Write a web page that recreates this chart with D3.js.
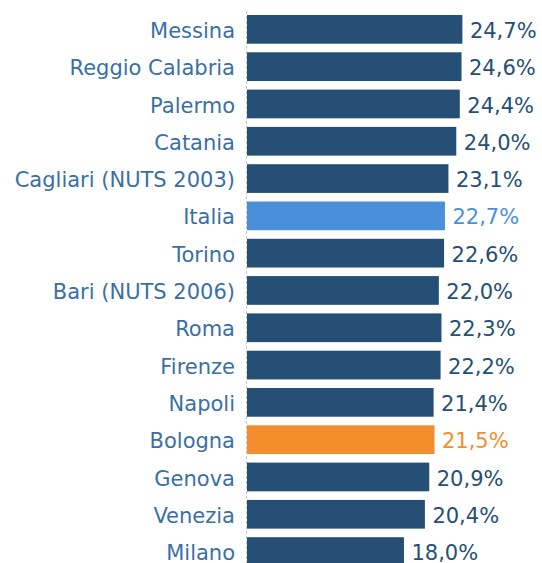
<!DOCTYPE html>
<html><head><meta charset="utf-8">
<script src="https://cdn.jsdelivr.net/npm/d3@7"></script>
<style>
html,body{margin:0;padding:0;background:#fff;}
svg{display:block;}
</style></head>
<body>
<svg id="chart" width="542" height="563"></svg>
<script>
const categories = ["Messina","Reggio Calabria","Palermo","Catania","Cagliari (NUTS 2003)","Italia","Torino","Bari (NUTS 2006)","Roma","Firenze","Napoli","Bologna","Genova","Venezia","Milano"];
const values = [24.7,24.6,24.4,24.0,23.1,22.7,22.6,22.0,22.3,22.2,21.4,21.5,20.9,20.4,18.0];
const highlight = {"Italia":"#4a90d9","Bologna":"#f28e2b"};
const baseColor = "#254f74";
const labelColor = "#3a6fa5";

const data = categories.map((c,i)=>({cat:c,val:values[i]}));
const svg = d3.select("#chart");
const x0 = 247;
const x = d3.scaleLinear().domain([0,30]).range([x0, x0 + 8.72*30]);
const step = 37.3, pad = 0.23;
const y = d3.scaleBand().domain(categories)
  .range([15 - step*pad/2, 15 - step*pad/2 + step*categories.length])
  .paddingInner(pad).paddingOuter(pad/2);

const font = "'DejaVu Sans', sans-serif";
const fs = "21px";

// dashed axis line
svg.append("line").attr("x1",x0-0.5).attr("x2",x0-0.5).attr("y1",11).attr("y2",563)
  .attr("stroke","#c8c8c8").attr("stroke-width",1).attr("stroke-dasharray","3,2");

svg.selectAll("rect.bar").data(data).join("rect").attr("class","bar")
  .attr("x",x(0)).attr("y",d=>y(d.cat))
  .attr("width",d=>x(d.val)-x(0)).attr("height",y.bandwidth())
  .attr("fill",d=>highlight[d.cat]||baseColor);

const yAxis = d3.axisLeft(y).tickSize(0).tickPadding(11);
const g = svg.append("g").attr("transform",`translate(${x0-1},0)`).call(yAxis);
g.select(".domain").remove();
g.selectAll("text").attr("fill",labelColor).attr("dy","0.41em")
  .style("font-family",font).style("font-size",fs);

const fmt = v => d3.format(".1f")(v).replace(".",",") + "%";
svg.selectAll("text.val").data(data).join("text").attr("class","val")
  .attr("x",d=>x(d.val)+7.5).attr("y",d=>y(d.cat)+y.bandwidth()/2)
  .attr("dy","0.41em")
  .attr("fill",d=>highlight[d.cat]||baseColor)
  .style("font-family",font).style("font-size",fs)
  .text(d=>fmt(d.val));
</script>
</body></html>
